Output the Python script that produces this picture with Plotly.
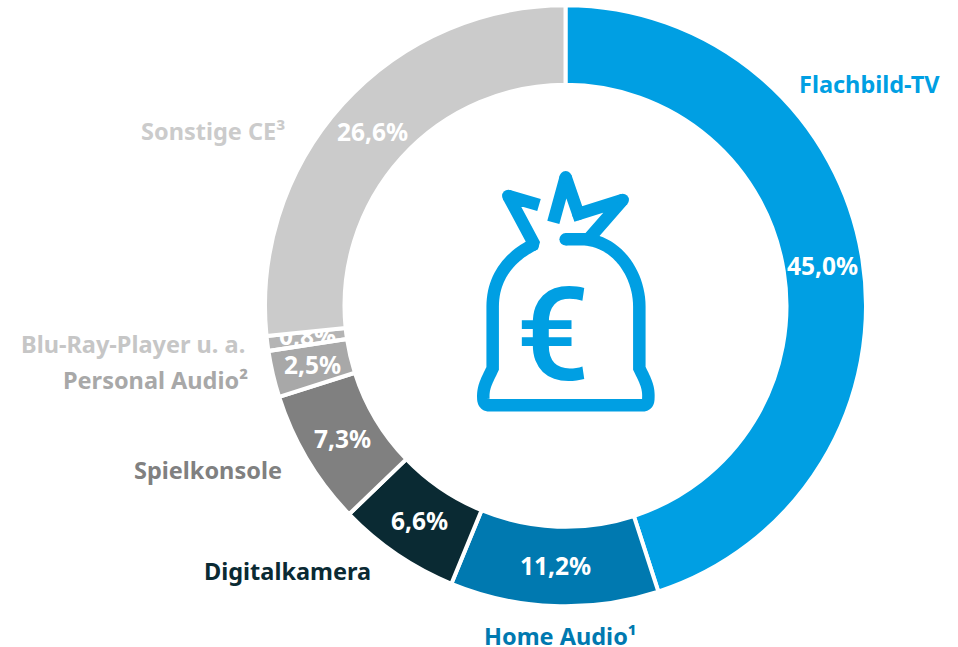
import numpy as np
import plotly.graph_objects as go

categories = ["Flachbild-TV", "Home Audio¹", "Digitalkamera", "Spielkonsole", "Personal Audio²", "Blu-Ray-Player u. a.", "Sonstige CE³"]
values = [45.0, 11.2, 6.6, 7.3, 2.5, 0.8, 26.6]
pct_labels = ["45,0%", "11,2%", "6,6%", "7,3%", "2,5%", "0,8%", "26,6%"]
slice_colors = ["#009fe3", "#0079b0", "#0a2a33", "#808080", "#a8a8a8", "#b4b4b4", "#cbcbcb"]
label_colors = ["#009fe3", "#0079b0", "#0a2a33", "#808080", "#a8a8a8", "#c6c6c6", "#cbcbcb"]

W, H = 958, 647
CX, CY, R_OUT, R_IN = 565.5, 305.8, 300.5, 221.0
R_MID = 260.0
FONT = "Noto Sans"
BLUE = "#009fe3"

cum = np.concatenate([[0], np.cumsum(values)])
mid = (cum[:-1] + cum[1:]) / 2 / 100 * 2 * np.pi
px = CX + R_MID * np.sin(mid)
py = CY - R_MID * np.cos(mid)

fig = go.Figure()

# narrow slice: drawn underneath so its label is cut by neighbours, as in the reference
i = categories.index("Blu-Ray-Player u. a.")
a = np.linspace(cum[i], cum[i + 1], 12) / 100 * 2 * np.pi
wx = np.concatenate([CX + R_OUT * np.sin(a), CX + R_IN * np.sin(a[::-1])])
wy = np.concatenate([CY - R_OUT * np.cos(a), CY - R_IN * np.cos(a[::-1])])
fig.add_trace(go.Scatter(x=wx, y=wy, fill="toself", mode="lines", fillcolor=slice_colors[i],
                         line=dict(width=0), hoverinfo="skip", showlegend=False))
fig.add_trace(go.Scatter(x=[px[i]], y=[py[i]], mode="text", text=[pct_labels[i]],
                         textfont=dict(family=FONT, size=24.5, color="white", weight="bold"),
                         hoverinfo="skip", showlegend=False))

# money-bag icon, traced in 3x crop coordinates
def T(pts):
    return [(450 + p[0] / 3, 150 + p[1] / 3) for p in pts]

def bez(p0, p1, p2, p3, n=24):
    t = np.linspace(0, 1, n)[:, None]
    p0, p1, p2, p3 = map(np.array, (p0, p1, p2, p3))
    return ((1-t)**3*p0 + 3*(1-t)**2*t*p1 + 3*(1-t)*t**2*p2 + t**3*p3).tolist()

body = ([(347, 268), (405, 268)]
        + bez((405, 268), (500, 275), (568, 370), (568, 470))
        + [(568, 655)]
        + bez((568, 655), (585, 690), (597, 710), (595, 745))
        + bez((595, 745), (595, 757), (590, 766), (578, 766))
        + [(118, 766)]
        + bez((118, 766), (106, 766), (100, 757), (100, 745))
        + bez((100, 745), (98, 710), (112, 690), (128, 655))
        + [(128, 470)]
        + bez((128, 470), (128, 380), (180, 320), (248, 285))
        + [(250, 278), (175, 138), (267, 165)])
star = [(310, 217), (347, 82), (385, 192), (518, 150), (420, 262)]
tips = [(347, 268), (248, 285), (175, 138), (347, 82), (518, 150), (385, 192)]

for path in (body, star):
    xy = T(path)
    fig.add_trace(go.Scatter(x=[p[0] for p in xy], y=[p[1] for p in xy], mode="lines",
                             line=dict(color=BLUE, width=12.5, simplify=False), hoverinfo="skip", showlegend=False))
xy = T(tips)
fig.add_trace(go.Scatter(x=[p[0] for p in xy], y=[p[1] for p in xy], mode="markers",
                         marker=dict(color=BLUE, size=12.5), hoverinfo="skip", showlegend=False))

# ring
colors = list(slice_colors)
colors[i] = "rgba(0,0,0,0)"
fig.add_trace(go.Pie(labels=categories, values=values, sort=False, direction="clockwise", rotation=0,
                     hole=R_IN / R_OUT, marker=dict(colors=colors, line=dict(color="white", width=4)),
                     textinfo="none", hoverinfo="skip", showlegend=False,
                     domain=dict(x=[(CX - R_OUT) / W, (CX + R_OUT) / W],
                                 y=[1 - (CY + R_OUT) / H, 1 - (CY - R_OUT) / H])))

ann = []
for k, t in enumerate(pct_labels):
    if k != i:
        ann.append(dict(x=px[k], y=py[k], xref="x", yref="y", text=f"<b>{t}</b>", showarrow=False,
                        font=dict(family=FONT, size=24.5, color="white")))

cat_pos = [(940, 84, "right"), (637, 636, "right"), (371, 571, "right"), (282, 470, "right"),
           (248, 380, "right"), (245, 344, "right"), (285, 131, "right")]
for k, (x, y, an) in enumerate(cat_pos):
    ann.append(dict(x=x, y=y, xref="x", yref="y", text=f"<b>{categories[k]}</b>", showarrow=False, xanchor=an,
                    xshift=2, font=dict(family=FONT, size=23.5, color=label_colors[k])))
ann.append(dict(x=553, y=335, xref="x", yref="y", text="€", showarrow=False,
                font=dict(family="Roboto", size=130, color=BLUE, weight=500)))

fig.update_layout(width=W, height=H, margin=dict(l=0, r=0, t=0, b=0), paper_bgcolor="white", plot_bgcolor="white",
                  xaxis=dict(range=[0, W], visible=False, fixedrange=True),
                  yaxis=dict(range=[H, 0], visible=False, fixedrange=True),
                  annotations=ann, showlegend=False)
fig.write_html("out.html", config=dict(displayModeBar=False),
               post_script="document.body.style.margin='0';document.body.style.overflow='hidden';")
